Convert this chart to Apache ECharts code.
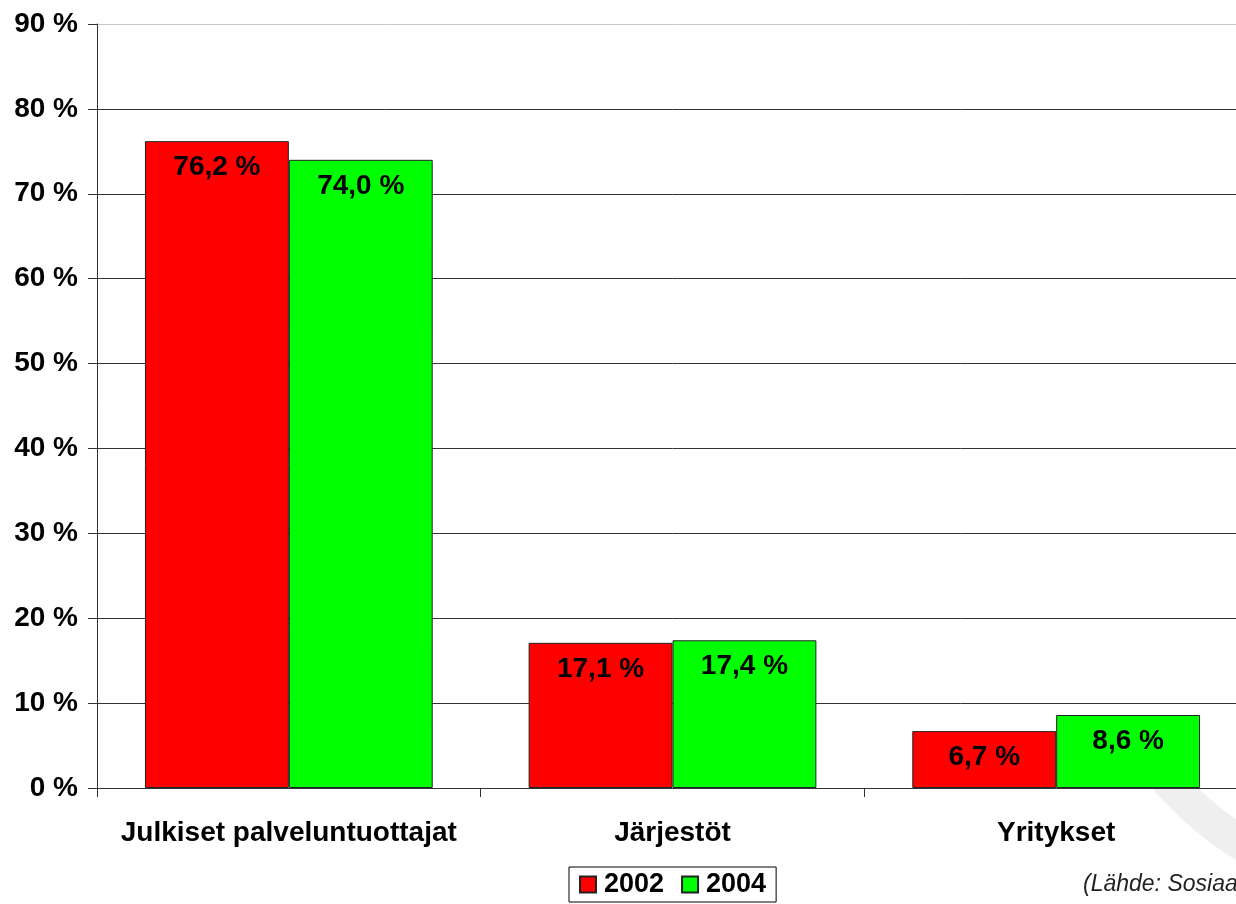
<!DOCTYPE html>
<html>
<head>
<meta charset="utf-8">
<script src="https://cdn.jsdelivr.net/npm/echarts@6/dist/echarts.min.js"></script>
<style>
  html, body { margin: 0; padding: 0; background: #fff; overflow: hidden; }
  /* kaavio jatkuu hieman kuvan oikean reunan yli */
  #main { width: 1248px; height: 904px; }
</style>
</head>
<body>
<div id="main"></div>
<script>
var categories = ['Julkiset palveluntuottajat', 'Järjestöt', 'Yritykset'];
var years = ['2002', '2004'];
var values2002 = [76.2, 17.1, 6.7];
var values2004 = [74.0, 17.4, 8.6];
var yTicks = [0, 10, 20, 30, 40, 50, 60, 70, 80, 90];
var sourceText = '(Lähde: Sosiaalibarometri 2005)';

var FONT = '"Liberation Sans", Arial, sans-serif';
var chart = echarts.init(document.getElementById('main'));

// arvo muotoon "76,2 %"
function pct(v) {
  return v.toFixed(1).replace('.', ',') + ' %';
}

function barSeries(name, data, color) {
  return {
    name: name,
    type: 'bar',
    data: data,
    barGap: '0%',
    barCategoryGap: '25%',
    itemStyle: { color: color, borderColor: '#222', borderWidth: 1 },
    label: {
      show: true,
      position: 'insideTop',
      distance: 12,
      color: '#000',
      fontFamily: FONT,
      fontWeight: 'bold',
      fontSize: 28,
      formatter: function (p) { return pct(p.value); }
    }
  };
}

// ylin viiva vaaleampi
var splitColors = yTicks.map(function (t) { return t === 90 ? '#c8c8c8' : '#333'; });

var option = {
  backgroundColor: '#ffffff',
  animation: false,
  graphic: [
    {
      type: 'arc',
      z: -10,
      shape: { cx: 1420, cy: 560, r: 335, startAngle: Math.PI * 0.64, endAngle: Math.PI * 0.78 },
      style: { stroke: '#efefef', lineWidth: 34, fill: null }
    },
    {
      type: 'text',
      left: 1083,
      top: 873,
      style: {
        text: sourceText,
        fill: '#222',
        font: 'italic 23px ' + FONT
      }
    }
  ],
  legend: {
    data: years,
    left: 569,
    top: 867,
    padding: [4, 10, 4, 10],
    borderColor: '#000',
    borderWidth: 1,
    itemGap: 17,
    itemWidth: 16,
    itemHeight: 16,
    icon: 'rect',
    textStyle: {
      color: '#000',
      fontFamily: FONT,
      fontWeight: 'bold',
      fontSize: 27,
      padding: [0, 0, 0, 3]
    }
  },
  grid: {
    left: 97,
    right: 0,
    top: 24,
    bottom: 116,
    containLabel: false
  },
  xAxis: {
    type: 'category',
    data: categories,
    axisLine: { lineStyle: { color: '#333', width: 1 } },
    axisTick: { show: true, interval: 0, length: 9, lineStyle: { color: '#333' } },
    axisLabel: {
      interval: 0,
      margin: 31,
      color: '#000',
      fontFamily: FONT,
      fontWeight: 'bold',
      fontSize: 28
    }
  },
  yAxis: {
    type: 'value',
    min: 0,
    max: 90,
    interval: 10,
    axisLine: { show: true, lineStyle: { color: '#333', width: 1 } },
    axisTick: { show: true, length: 9, lineStyle: { color: '#333' } },
    axisLabel: {
      margin: 19,
      color: '#000',
      fontFamily: FONT,
      fontWeight: 'bold',
      fontSize: 28,
      formatter: '{value} %'
    },
    splitLine: { show: true, lineStyle: { color: splitColors, width: 1 } }
  },
  series: [
    barSeries(years[0], values2002, '#ff0000'),
    barSeries(years[1], values2004, '#00ff00')
  ]
};

chart.setOption(option);
window.addEventListener('resize', function () {
  chart.resize();
});
</script>
</body>
</html>
